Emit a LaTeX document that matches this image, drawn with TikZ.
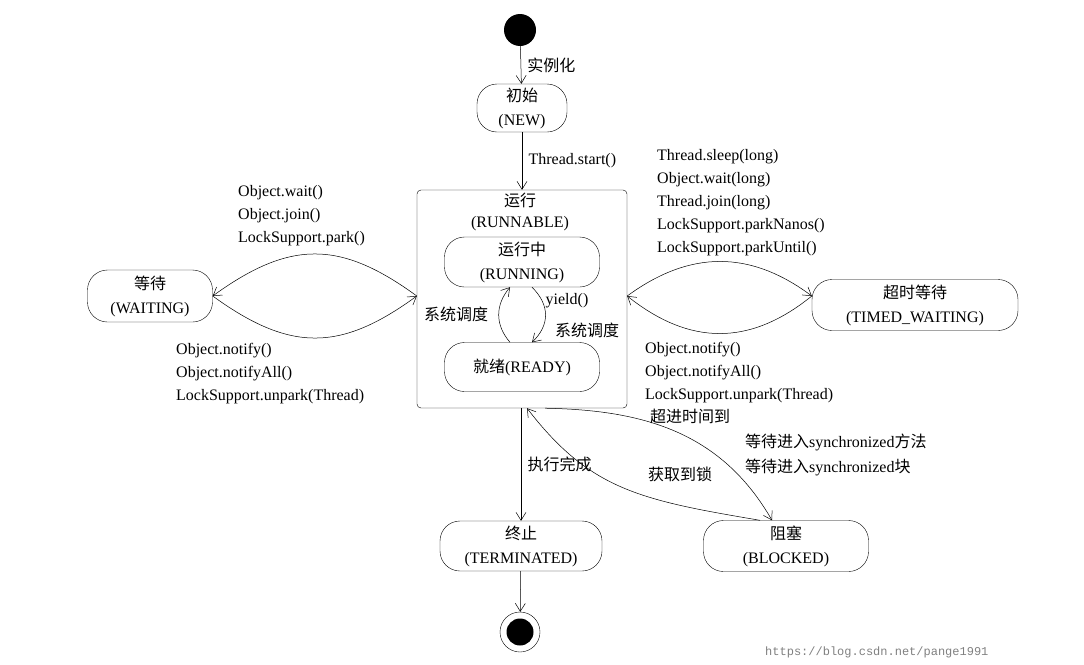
\documentclass[tikz,border=0pt]{standalone}
\usepackage{fontspec}
\setmainfont{Liberation Serif}
\newfontfamily\cjk{Noto Sans CJK SC}
\newfontfamily\monof{Liberation Mono}
\usetikzlibrary{arrows.meta}
\begin{document}
\begin{tikzpicture}[x=1pt,y=-1pt,
  every node/.style={font=\fontsize{16}{24}\selectfont},
  st/.style={draw,rounded corners=20pt,minimum height=#1,align=center,inner sep=0pt},
  ar/.style={-{Straight Barb[length=8pt,width=10pt]},line width=0.5pt},
  lab/.style={anchor=west,inner sep=0pt}]
\useasboundingbox (0,0) rectangle (1084,664);
\node[circle,fill=black,minimum size=32pt,inner sep=0] (s) at (520,30) {};
\node[st=48pt,minimum width=90pt] (new) at (522,108) {{\cjk 初始}\\(NEW)};
\node[draw,rounded corners=4pt,minimum width=210pt,minimum height=218pt] (run) at (522,299) {};
\node at (520,200) {\cjk 运行};
\node at (520,224) {(RUNNABLE)};
\node[st=50pt,minimum width=155pt] (ing) at (522,262) {{\cjk 运行中}\\(RUNNING)};
\node[st=49pt,minimum width=155pt] (rdy) at (522,367) {{\cjk 就绪}(READY)};
\node[st=52pt,minimum width=125pt] (w) at (150,296) {{\cjk 等待}\\(WAITING)};
\node[st=51pt,minimum width=206pt] (tw) at (915,305) {{\cjk 超时等待}\\(TIMED\_WAITING)};
\node[st=50pt,minimum width=162pt] (t) at (521,546) {{\cjk 终止}\\(TERMINATED)};
\node[st=51pt,minimum width=165pt] (b) at (786,546) {{\cjk 阻塞}\\(BLOCKED)};
\node[circle,draw,minimum size=40pt,inner sep=0] (e) at (520,632) {};
\node[circle,fill=black,minimum size=27pt,inner sep=0] at (520,632) {};
\draw[ar] (s) -- (new) node[midway,right=3pt] {\cjk 实例化};
\draw[ar] (new) -- (run.north -| new) node[midway,right=3pt] {Thread.start()};
\draw[ar] (rdy.north -| 510,0) .. controls (495,325) and (495,305) .. (ing.south -| 510,0);
\draw[ar] (ing.south -| 532,0) .. controls (550,305) and (550,325) .. (rdy.north -| 532,0);
\node at (456,314) {\cjk 系统调度};
\node at (567,301) {yield()};
\node at (587,330) {\cjk 系统调度};
\coordinate (wr) at (w.east); \coordinate (rl) at (run.west|-w.east);
\draw[ar] (rl) .. controls (340,240) and (290,240) .. (wr);
\draw[ar] (wr) .. controls (290,352) and (340,352) .. (rl);
\coordinate (rr) at (run.east|-0,296); \coordinate (twl) at (tw.west|-0,296);
\draw[ar] (rr) .. controls (690,250) and (750,250) .. (twl);
\draw[ar] (twl) .. controls (750,346) and (690,346) .. (rr);
\node[lab] at (238,193) {Object.wait()};
\node[lab] at (238,216) {Object.join()};
\node[lab] at (238,239) {LockSupport.park()};
\node[lab] at (176,351) {Object.notify()};
\node[lab] at (176,374) {Object.notifyAll()};
\node[lab] at (176,397) {LockSupport.unpark(Thread)};
\node[lab] at (657,157) {Thread.sleep(long)};
\node[lab] at (657,180) {Object.wait(long)};
\node[lab] at (657,203) {Thread.join(long)};
\node[lab] at (657,226) {LockSupport.parkNanos()};
\node[lab] at (657,249) {LockSupport.parkUntil()};
\node[lab] at (645,350) {Object.notify()};
\node[lab] at (645,373) {Object.notifyAll()};
\node[lab] at (645,396) {LockSupport.unpark(Thread)};
\draw[ar] (run.south -| t) -- (t) node[midway,right=3pt] {\cjk 执行完成};
\draw[ar] (t) -- (e);
\draw[ar] (run.south -| 545,0) .. controls (640,410) and (720,430) .. (b.north -| 772,0);
\draw[ar] (b.north -| 760,0) .. controls (640,500) and (590,490) .. (run.south -| 527,0);
\node[lab] at (650,416) {\cjk 超进时间到};
\node[lab] at (745,442) {{\cjk 等待进入}synchronized{\cjk 方法}};
\node[lab] at (745,467) {{\cjk 等待进入}synchronized{\cjk 块}};
\node at (680,474) {\cjk 获取到锁};
\node[lab,text=gray,font=\monof\fontsize{12}{14}\selectfont] at (765,652) {https://blog.csdn.net/pange1991};
\end{tikzpicture}
\end{document}
